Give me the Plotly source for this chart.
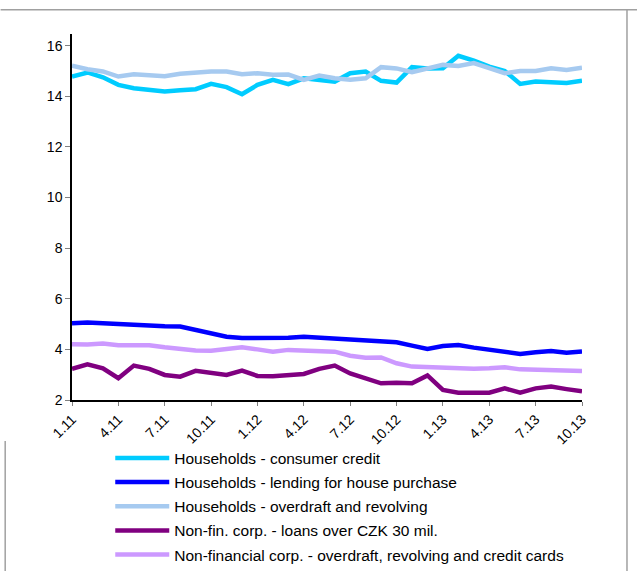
import plotly.graph_objects as go

# Monthly interest rates on new loans, Jan 2011 – Oct 2013 (%)
months = [f"{m}.{y}" for y in (11, 12, 13) for m in range(1, 13)][:34]

consumer_credit = [14.78, 14.94, 14.75, 14.45, 14.32, 14.25, 14.19, 14.24, 14.28, 14.49,
                   14.36, 14.08, 14.45, 14.65, 14.48, 14.71, 14.65, 14.58, 14.91, 14.98,
                   14.61, 14.54, 15.15, 15.10, 15.11, 15.60, 15.41, 15.17, 15.00, 14.49,
                   14.58, 14.54, 14.52, 14.61]
house_purchase = [5.03, 5.06, 5.03, 4.99, 4.95, 4.94, 4.91, 4.90, 4.77, 4.64,
                  4.50, 4.45, 4.44, 4.44, 4.46, 4.50, 4.46, 4.40, 4.37, 4.33,
                  4.28, 4.28, 4.15, 4.02, 4.13, 4.17, 4.07, 3.98, 3.87, 3.82,
                  3.89, 3.94, 3.87, 3.92]
hh_overdraft = [15.21, 15.07, 14.98, 14.78, 14.87, 14.82, 14.79, 14.89, 14.94, 14.98,
                14.98, 14.87, 14.91, 14.85, 14.86, 14.65, 14.82, 14.71, 14.65, 14.71,
                15.15, 15.10, 14.95, 15.09, 15.24, 15.20, 15.31, 15.11, 14.91, 15.00,
                15.00, 15.11, 15.04, 15.13]
nfc_loans_30m = [3.23, 3.41, 3.25, 2.86, 3.36, 3.23, 2.99, 2.92, 3.15, 3.09,
                 2.99, 3.16, 2.95, 2.94, 2.99, 3.03, 3.23, 3.36, 3.05, 2.86,
                 2.66, 2.68, 2.66, 2.97, 2.40, 2.29, 2.29, 2.29, 2.46, 2.29,
                 2.46, 2.53, 2.43, 2.34]
nfc_overdraft = [4.20, 4.19, 4.23, 4.16, 4.16, 4.16, 4.08, 4.00, 3.96, 3.95,
                 4.00, 4.08, 4.00, 3.91, 3.98, 3.95, 3.92, 3.91, 3.75, 3.67,
                 3.68, 3.45, 3.32, 3.30, 3.29, 3.23, 3.23, 3.25, 3.29, 3.21,
                 3.19, 3.20, 3.15, 3.15]

tick_labels = [months[i] for i in range(0, 34, 3)]
y_ticks = [2, 4, 6, 8, 10, 12, 14, 16]

series = [
    ("Households - consumer credit", consumer_credit, "#00CCFF"),
    ("Households - lending for house purchase", house_purchase, "#0000FF"),
    ("Households - overdraft and revolving", hh_overdraft, "#A6CAF0"),
    ("Non-fin. corp. - loans over CZK 30 mil.", nfc_loans_30m, "#800080"),
    ("Non-financial corp. - overdraft, revolving and credit cards", nfc_overdraft, "#CC99FF"),
]

# draw order: keep the light-blue overdraft line on top of consumer credit
draw_order = [1, 4, 3, 0, 2]

fig = go.Figure()
for idx in draw_order:
    name, vals, color = series[idx]
    fig.add_trace(go.Scatter(
        x=months, y=vals, name=name, mode="lines",
        line=dict(color=color, width=4.5),
        legendrank=idx + 1, legendgroup=f"g{idx}",
    ))

fig.update_layout(
    width=637, height=571,
    margin=dict(l=72, r=55, t=34, b=171, autoexpand=False),
    paper_bgcolor="white", plot_bgcolor="white",
    font=dict(family="Liberation Sans, Arial, sans-serif", color="black", size=14),
    showlegend=True,
    legend=dict(
        x=0.075, y=-0.113, xanchor="left", yanchor="top",
        font=dict(size=15.5), traceorder="grouped",
        bgcolor="rgba(0,0,0,0)", itemwidth=54, tracegroupgap=1,
    ),
    xaxis=dict(
        type="category", categoryorder="array", categoryarray=months,
        range=[0, 33], automargin=False,
        tickmode="array", tickvals=tick_labels, ticktext=tick_labels,
        tickangle=-45, ticks="outside", ticklen=4, tickcolor="#808080",
        showline=True, linecolor="black", linewidth=1.5,
        showgrid=False, zeroline=False,
        tickfont=dict(size=14),
    ),
    yaxis=dict(
        range=[2, 16.46], tickvals=y_ticks, automargin=False,
        ticks="outside", ticklen=5, tickcolor="#808080",
        showline=True, linecolor="black", linewidth=1.5,
        showgrid=False, zeroline=False,
        tickfont=dict(size=14),
    ),
    shapes=[
        dict(type="line", xref="paper", yref="paper", x0=-0.14, x1=1.2, y0=1.066, y1=1.066,
             line=dict(color="#A0A0A0", width=1.5)),
        dict(type="line", xref="paper", yref="paper", x0=1.0882, x1=1.0882, y0=-0.467, y1=1.066,
             line=dict(color="#A0A0A0", width=1.5)),
        dict(type="line", xref="paper", yref="paper", x0=-0.131, x1=-0.131, y0=-0.467, y1=-0.112,
             line=dict(color="#A0A0A0", width=1.5)),
    ],
)

fig.write_html("out.html")
